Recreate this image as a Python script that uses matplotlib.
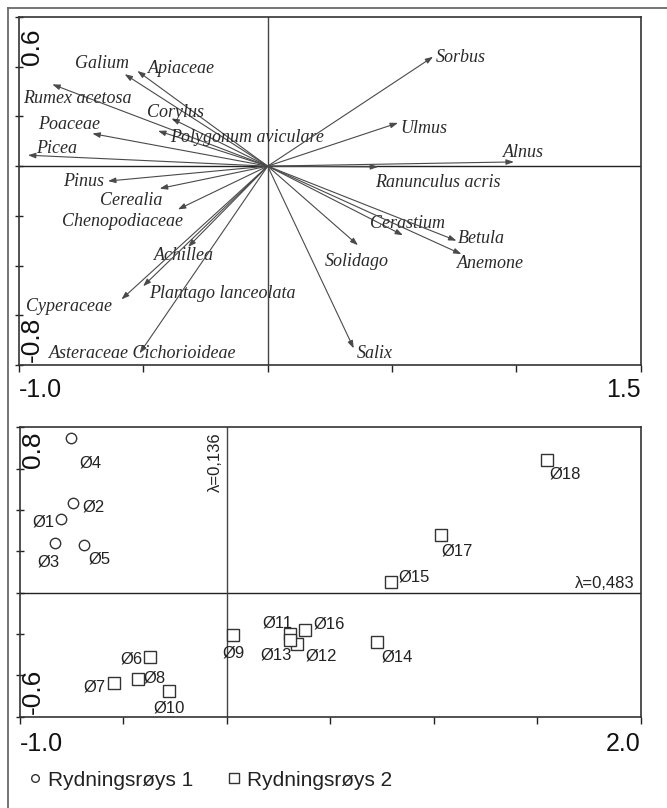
import matplotlib
matplotlib.use("Agg")
import matplotlib.pyplot as plt
from matplotlib.lines import Line2D
import numpy as np

# ---------------- data ----------------
species = ["Galium", "Apiaceae", "Rumex acetosa", "Corylus", "Polygonum aviculare",
           "Poaceae", "Picea", "Pinus", "Cerealia", "Chenopodiaceae", "Achillea",
           "Plantago lanceolata", "Cyperaceae", "Asteraceae Cichorioideae",
           "Sorbus", "Ulmus", "Alnus", "Ranunculus acris", "Cerastium", "Betula",
           "Anemone", "Solidago", "Salix"]
sp_x = [-0.575, -0.524, -0.866, -0.387, -0.441, -0.705, -0.964, -0.642, -0.434,
        -0.361, -0.320, -0.501, -0.588, -0.515, 0.665, 0.524, 0.990, 0.444,
        0.544, 0.759, 0.779, 0.363, 0.346]
sp_y = [0.370, 0.383, 0.329, 0.192, 0.142, 0.131, 0.044, -0.060, -0.090,
        -0.174, -0.325, -0.483, -0.536, -0.753, 0.440, 0.174, 0.017, -0.003,
        -0.278, -0.300, -0.354, -0.318, -0.733]

sites = ["Ø1", "Ø2", "Ø3", "Ø4", "Ø5", "Ø6", "Ø7", "Ø8", "Ø9", "Ø10", "Ø11",
         "Ø12", "Ø13", "Ø14", "Ø15", "Ø16", "Ø17", "Ø18"]
site_x = [-0.802, -0.744, -0.830, -0.754, -0.693, -0.374, -0.548, -0.432, 0.029,
          -0.282, 0.306, 0.338, 0.303, 0.725, 0.794, 0.378, 1.036, 1.547]
site_y = [0.355, 0.435, 0.239, 0.747, 0.231, -0.310, -0.438, -0.419, -0.205,
          -0.474, -0.200, -0.248, -0.229, -0.237, 0.050, -0.180, 0.279, 0.642]
site_group = [1, 1, 1, 1, 1, 2, 2, 2, 2, 2, 2, 2, 2, 2, 2, 2, 2, 2]
group_names = ["Rydningsrøys 1", "Rydningsrøys 2"]

eig_axis1 = "λ=0,483"
eig_axis2 = "λ=0,136"

top_xlim = (-1.0, 1.5)
top_ylim = (-0.8, 0.6)
bot_xlim = (-1.0, 2.0)
bot_ylim = (-0.6, 0.8)

# -------------- label placement (left x, centre y, in data units) --------------
sp_lx = [-0.776, -0.483, -0.985, -0.487, -0.394, -0.925, -0.933, -0.824, -0.676,
         -0.828, -0.458, -0.478, -0.973, -0.881, 0.676, 0.535, 0.945, 0.430,
         0.410, 0.764, 0.760, 0.229, 0.358]
sp_ly = [0.414, 0.394, 0.274, 0.217, 0.117, 0.169, 0.072, -0.060, -0.137,
         -0.221, -0.358, -0.511, -0.563, -0.752, 0.438, 0.153, 0.056, -0.064,
         -0.229, -0.290, -0.390, -0.382, -0.752]
site_lx = [-0.941, -0.699, -0.917, -0.714, -0.670, -0.516, -0.695, -0.405, -0.023,
           -0.356, 0.171, 0.378, 0.161, 0.749, 0.828, 0.417, 1.039, 1.558]
site_ly = [0.343, 0.416, 0.150, 0.629, 0.162, -0.321, -0.458, -0.414, -0.290,
           -0.559, -0.148, -0.305, -0.301, -0.310, 0.075, -0.153, 0.202, 0.574]

SANS = "Liberation Sans"
SERIF = "Liberation Serif"
W, H = 667, 808

fig = plt.figure(figsize=(W / 100, H / 100), dpi=100)

# outer frame (left and top edges visible)
fig.add_artist(Line2D([8 / W, 8 / W], [0, 1 - 8 / H], transform=fig.transFigure,
                      color="#6a6a6a", lw=1.3))
fig.add_artist(Line2D([8 / W, 1], [1 - 8 / H, 1 - 8 / H], transform=fig.transFigure,
                      color="#6a6a6a", lw=1.3))


def style_axes(ax, xlim, ylim):
    ax.set_xlim(*xlim)
    ax.set_ylim(*ylim)
    ax.set_xticks(np.arange(xlim[0], xlim[1] + 1e-9, 0.5))
    ax.set_yticks(np.arange(ylim[0], ylim[1] + 1e-9, 0.2))
    ax.tick_params(axis="y", direction="inout", length=6, width=1.0,
                   labelleft=False, color="#222")
    ax.tick_params(axis="x", direction="out", length=5, width=1.0,
                   labelbottom=False, color="#222")
    for s in ax.spines.values():
        s.set_color("#333")
        s.set_linewidth(1.2)
    ax.axhline(0, color="#222", lw=1.0, zorder=1)
    ax.axvline(0, color="#444", lw=1.0, zorder=1)
    # end-point labels
    ax.text(0, -0.072 if ax is ax1 else -0.094, f"{xlim[0]:.1f}", transform=ax.transAxes,
            ha="left", va="center", fontsize=18, family=SANS, color="#111")
    ax.text(1, -0.072 if ax is ax1 else -0.094, f"{xlim[1]:.1f}", transform=ax.transAxes,
            ha="right", va="center", fontsize=18, family=SANS, color="#111")


# ---------------- top panel: species arrows ----------------
ax1 = fig.add_axes([19 / W, 1 - 365 / H, 621.7 / W, 348 / H])
style_axes(ax1, top_xlim, top_ylim)
ax1.text(0.002, 0.968, f"{top_ylim[1]:.1f}", transform=ax1.transAxes, rotation=90,
         ha="left", va="top", fontsize=19, family=SANS, color="#111")
ax1.text(0.002, 0.009, f"{top_ylim[0]:.1f}", transform=ax1.transAxes, rotation=90,
         ha="left", va="bottom", fontsize=19, family=SANS, color="#111")

for name, x, y, lx, ly in zip(species, sp_x, sp_y, sp_lx, sp_ly):
    ax1.annotate("", xy=(x, y), xytext=(0, 0),
                 arrowprops=dict(arrowstyle="-|>,head_length=0.45,head_width=0.16",
                                 color="#4a4a4a", lw=0.8, shrinkA=0, shrinkB=0,
                                 mutation_scale=10))
    ax1.text(lx, ly, name, ha="left", va="center", fontsize=13, family=SERIF,
             style="italic", color="#2a2a2a")

# ---------------- bottom panel: sites ----------------
ax2 = fig.add_axes([20 / W, 1 - 716.7 / H, 620.7 / W, 289.4 / H])
style_axes(ax2, bot_xlim, bot_ylim)
ax2.text(0.002, 0.985, f"{bot_ylim[1]:.1f}", transform=ax2.transAxes, rotation=90,
         ha="left", va="top", fontsize=19, family=SANS, color="#111")
ax2.text(0.002, 0.009, f"{bot_ylim[0]:.1f}", transform=ax2.transAxes, rotation=90,
         ha="left", va="bottom", fontsize=19, family=SANS, color="#111")

markers = {1: ("o", 7.5), 2: ("s", 8.0)}
sx = np.array(site_x)
sy = np.array(site_y)
sg = np.array(site_group)
for g in (1, 2):
    m, ms = markers[g]
    ax2.plot(sx[sg == g], sy[sg == g], ls="none", marker=m, ms=ms, mfc="white",
             mec="#333", mew=1.0, zorder=3)
for name, lx, ly in zip(sites, site_lx, site_ly):
    ax2.text(lx, ly, name, ha="left", va="center", fontsize=12, family=SANS,
             color="#222")

ax2.text(-0.090, 0.777, eig_axis2, rotation=90, ha="left", va="top", fontsize=12,
         family=SANS, color="#222")
ax2.text(1.969, 0.023, eig_axis1, ha="right", va="baseline", fontsize=12,
         family=SANS, color="#222")

# ---------------- legend ----------------
handles = [Line2D([], [], ls="none", marker="o", ms=5.5, mfc="white", mec="#333", mew=1.0),
           Line2D([], [], ls="none", marker="s", ms=7.5, mfc="white", mec="#333", mew=1.0)]
fig.legend(handles, group_names, loc="center left", bbox_to_anchor=(29 / W, 1 - 780 / H),
           ncol=2, frameon=False, prop={"family": SANS, "size": 15},
           handlelength=0.6, handletextpad=0.3, columnspacing=1.67,
           borderaxespad=0, borderpad=0, labelcolor="#222")

fig.savefig("out.png", dpi=100)
